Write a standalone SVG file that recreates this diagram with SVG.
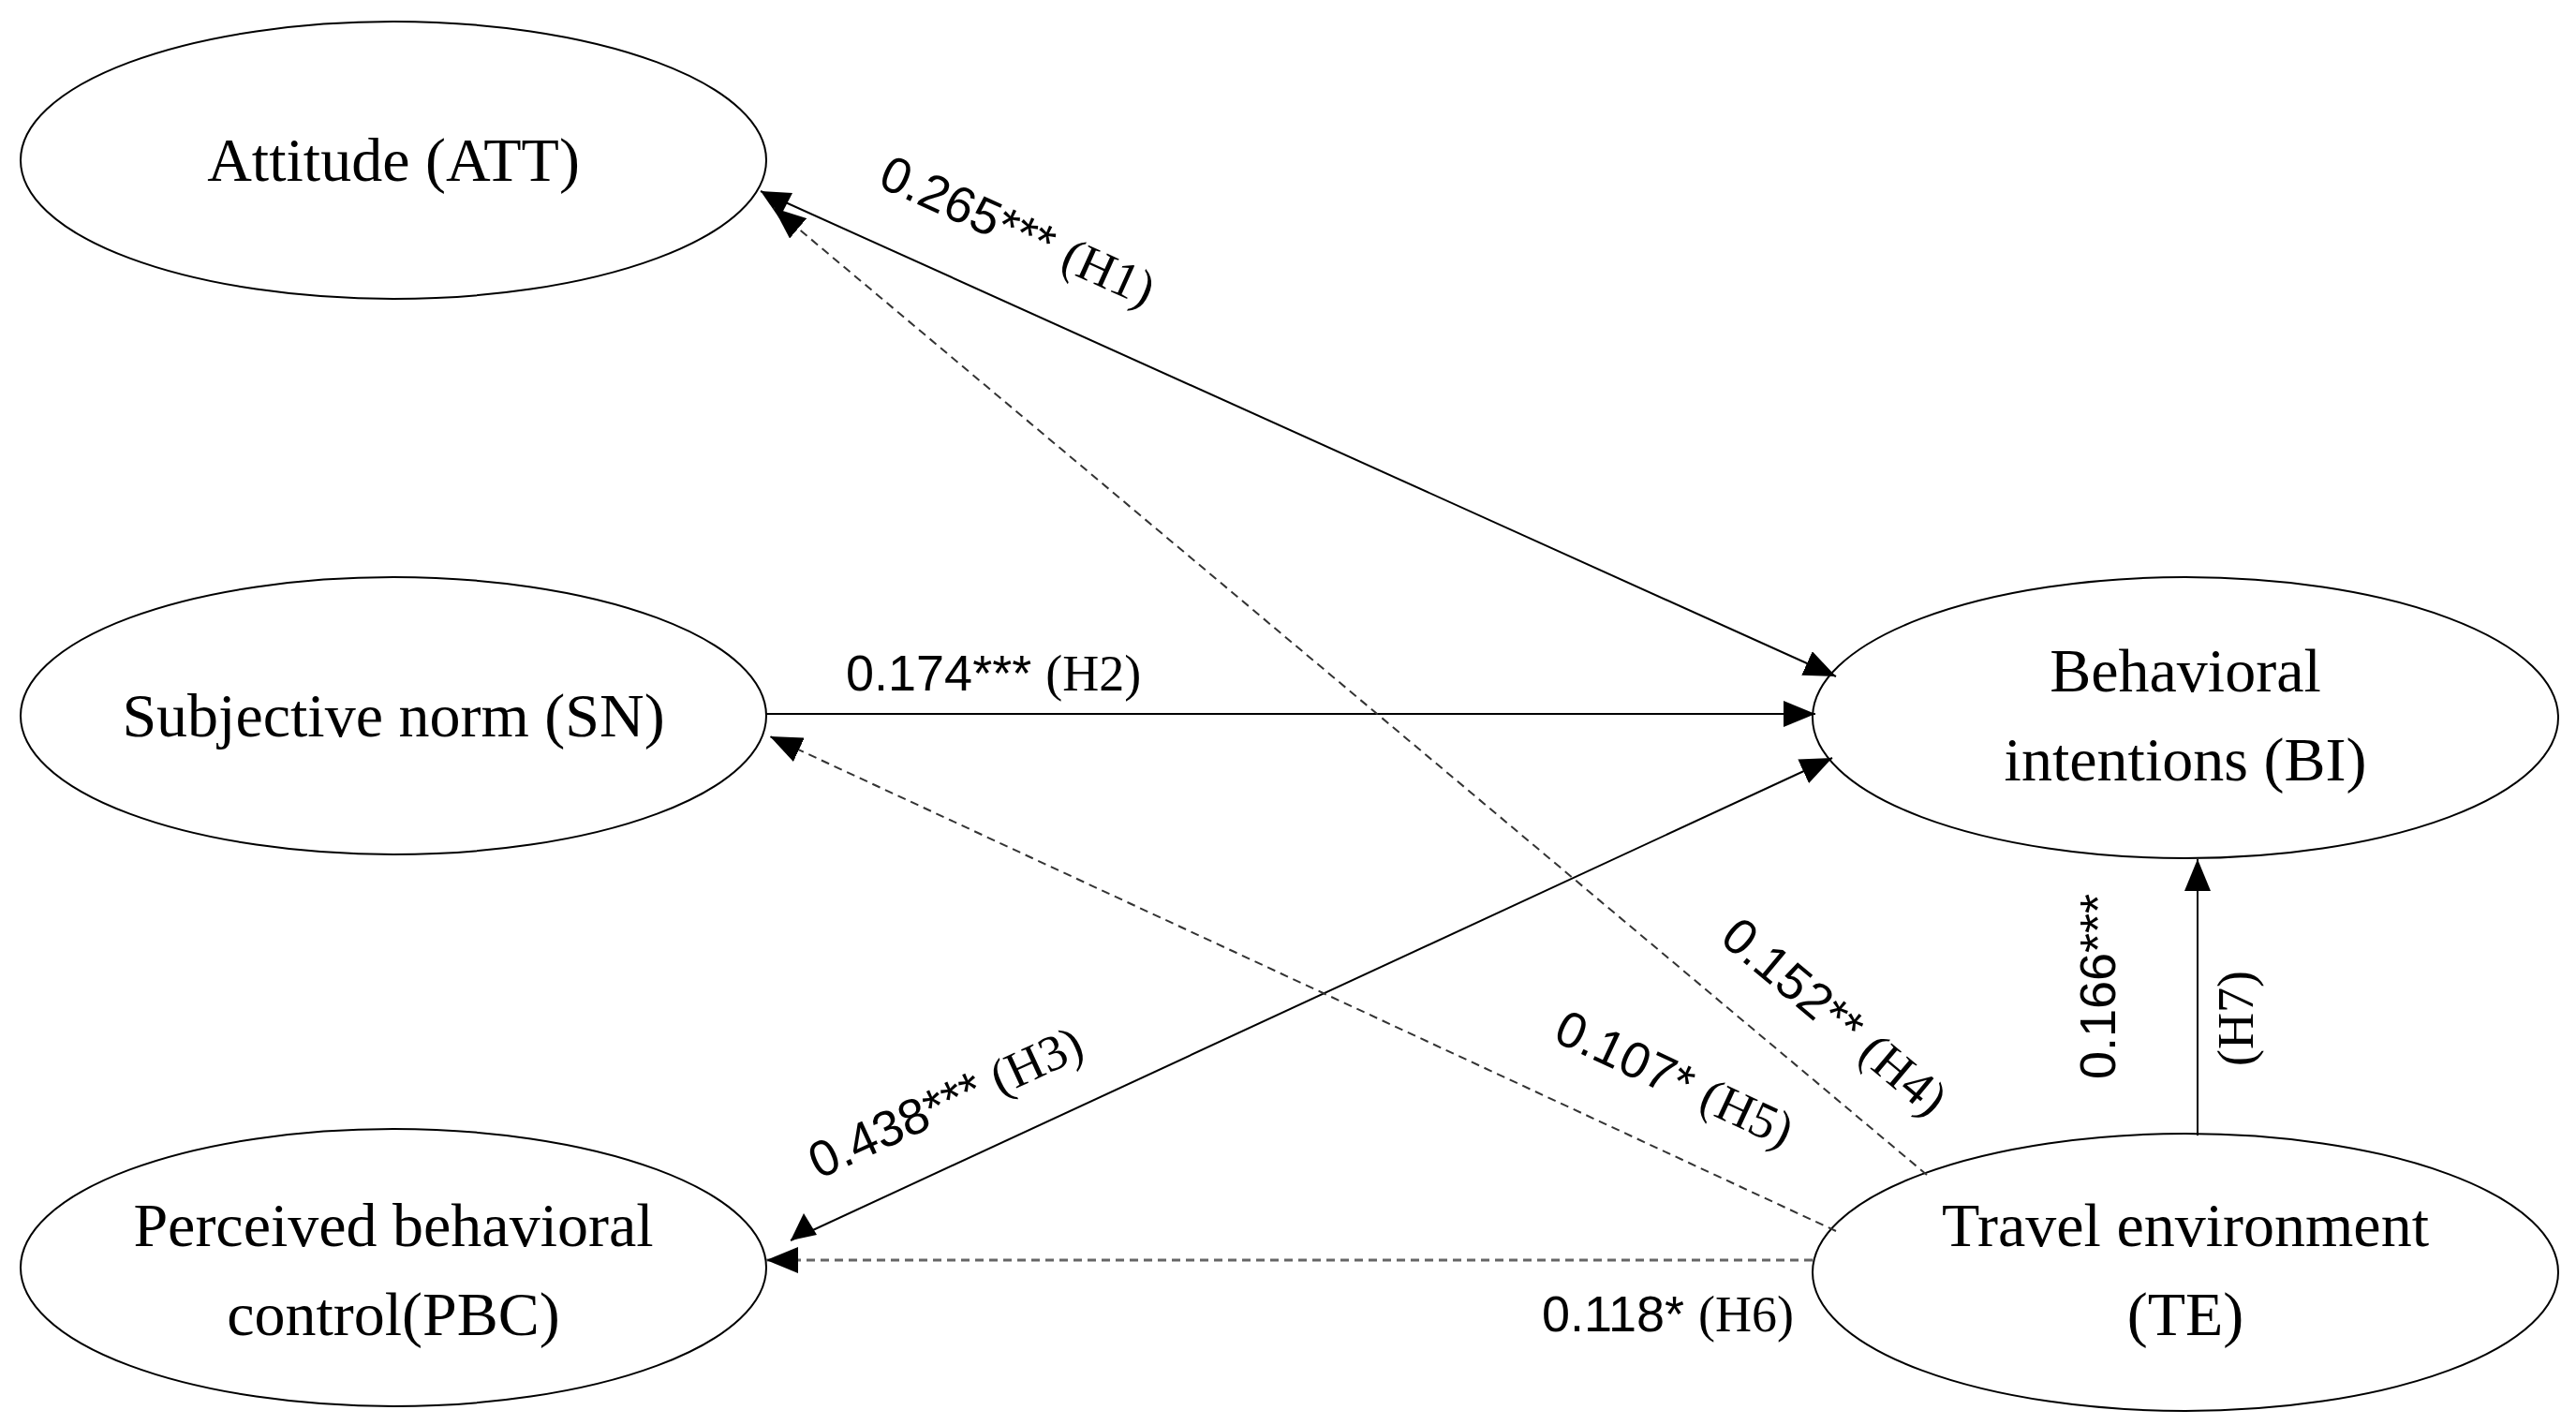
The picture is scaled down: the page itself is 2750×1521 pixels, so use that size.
<svg xmlns="http://www.w3.org/2000/svg" width="2750" height="1521" viewBox="0 0 2750 1521">
<style>
.n{fill:#fff;stroke:#000;stroke-width:2}
.t{font-family:"Liberation Serif",serif;font-size:66px;fill:#000;text-anchor:middle}
.s{stroke:#000;stroke-width:2;fill:none}
.d{stroke:#333;stroke-width:2;stroke-dasharray:9 6;fill:none}
.l{font-family:"Liberation Sans",sans-serif;font-size:54px;fill:#000}
.h{font-family:"Liberation Serif",serif}
</style>
<defs><marker id="a" markerWidth="12" markerHeight="10" refX="11" refY="5" orient="auto" markerUnits="userSpaceOnUse" viewBox="0 0 12 10"><path d="M0,0 L12,5 L0,10 z" fill="#000"/></marker>
<marker id="b" markerWidth="34" markerHeight="28" refX="34" refY="14" orient="auto" markerUnits="userSpaceOnUse"><path d="M0,0 L34,14 L0,28 z" fill="#000"/></marker></defs>
<g id="ATT"><ellipse class="n" cx="420" cy="171" rx="398" ry="148"/><text class="t" x="420" y="193">Attitude (ATT)</text></g>
<g id="SN"><ellipse class="n" cx="420" cy="764" rx="398" ry="148"/><text class="t" x="420" y="786">Subjective norm (SN)</text></g>
<g id="PBC"><ellipse class="n" cx="420" cy="1353" rx="398" ry="148"/><text class="t" x="420" y="1330">Perceived behavioral</text><text class="t" x="420" y="1425">control(PBC)</text></g>
<g id="BI"><ellipse class="n" cx="2333" cy="766" rx="398" ry="150"/><text class="t" x="2333" y="738">Behavioral</text><text class="t" x="2333" y="833">intentions (BI)</text></g>
<g id="TE"><ellipse class="n" cx="2333" cy="1358" rx="398" ry="148"/><text class="t" x="2333" y="1330">Travel environment</text><text class="t" x="2333" y="1425">(TE)</text></g>
<g id="connectors">
<line class="s" x1="812" y1="204" x2="1960" y2="722" marker-start="url(#bs)" marker-end="url(#b)"/>
<path d="M812,204 l34,2 l-14,27 z" fill="#000"/>
<line class="s" x1="818" y1="762" x2="1938" y2="762" marker-end="url(#b)"/>
<line class="s" x1="844" y1="1324" x2="1956" y2="809" marker-end="url(#b)"/>
<path d="M844,1324 l14,-29 l14,23 z" fill="#000"/>
<line class="s" x1="2346" y1="1212" x2="2346" y2="917" marker-end="url(#b)"/>
<line class="d" x1="2057" y1="1254" x2="826" y2="222" marker-end="url(#b)"/>
<line class="d" x1="1960" y1="1314" x2="822" y2="786" marker-end="url(#b)"/>
<line class="d" x1="1935" y1="1345" x2="818" y2="1345" marker-end="url(#b)" style="stroke:#666;stroke-width:3"/>
</g>
<g id="labels">
<text class="l" transform="translate(1079,263) rotate(24.3)" text-anchor="middle">0.265*** <tspan class="h">(H1)</tspan></text>
<text class="l" x="903" y="737">0.174*** <tspan class="h">(H2)</tspan></text>
<text class="l" transform="translate(1017,1193) rotate(-24.8)" text-anchor="middle">0.438***  <tspan class="h">(H3)</tspan></text>
<text class="l" transform="translate(1947,1099) rotate(40)" text-anchor="middle">0.152**  <tspan class="h">(H4)</tspan></text>
<text class="l" transform="translate(1780,1168) rotate(25)" text-anchor="middle">0.107* <tspan class="h">(H5)</tspan></text>
<text class="l" x="1915" y="1421" text-anchor="end">0.118* <tspan class="h">(H6)</tspan></text>
<text class="l" transform="translate(2258,1053) rotate(-90)" text-anchor="middle">0.166***</text>
<text class="l h" transform="translate(2405,1087) rotate(-90)" text-anchor="middle">(H7)</text>
</g>
</svg>
